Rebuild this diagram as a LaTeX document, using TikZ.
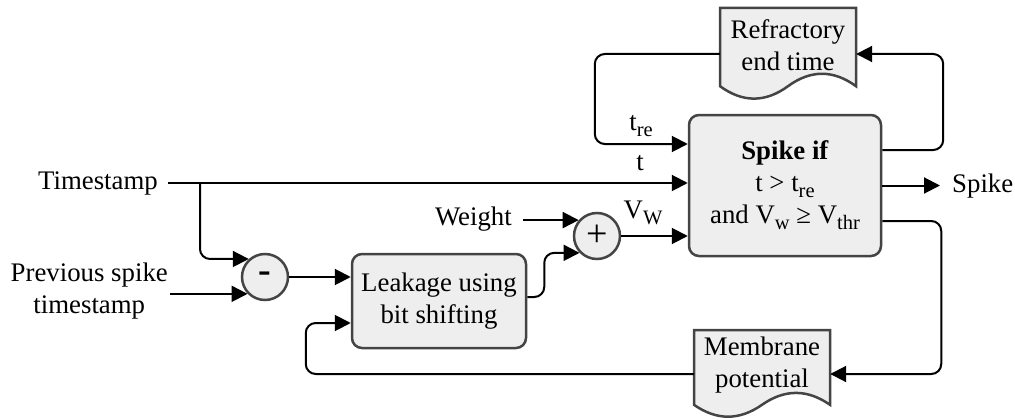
\documentclass[tikz,border=0pt]{standalone}
\usepackage{fontspec}
\setmainfont{Liberation Serif}
\usetikzlibrary{arrows.meta,calc}
\definecolor{boxfill}{HTML}{EEEEEE}
\definecolor{boxline}{HTML}{444444}
\newcommand\mysub[1]{\raisebox{-6pt}{\fontsize{20.5}{20}\selectfont #1}}
\begin{document}
\begin{tikzpicture}[x=1pt,y=-1pt,
  every node/.style={font=\fontsize{26.8}{32}\selectfont, inner sep=0pt},
  conn/.style={line width=2pt, rounded corners=10pt},
  arr/.style={conn, -{Triangle[length=16pt,width=16pt]}},
  procbox/.style={draw=boxline, fill=boxfill, line width=2.5pt, rounded corners=10pt, align=center},
  opcircle/.style={circle, draw=boxline, fill=boxfill, line width=2.5pt, minimum size=46pt},
  doctext/.style={align=center, minimum width=136pt},
  docline/.style={draw=boxline, fill=boxfill, line width=2.5pt},
  lbl/.style={align=center}]
\useasboundingbox (0,0) rectangle (1015,420);

% document outlines
\draw[docline] (720,8) -- (856,8) -- (856,86.2)
  .. controls (833.33,69.64) and (810.67,69.64) .. (788,86.2)
  .. controls (765.33,102.76) and (742.67,102.76) .. (720,86.2) -- cycle;
\draw[docline] (694,330) -- (830,330) -- (830,404.8)
  .. controls (807.33,388.96) and (784.67,388.96) .. (762,404.8)
  .. controls (739.33,420.64) and (716.67,420.64) .. (694,404.8) -- cycle;

% nodes
\node[doctext] (ref) at (788,45) {Refractory\\end time};
\node[doctext] (mem) at (762,365) {Membrane\\potential};
\node[procbox, minimum width=192pt, minimum height=141pt] (spk) at (785,185.5)
  {\textbf{Spike if}\\ t > t\mysub{re}\\ and V\mysub{w} ≥ V\mysub{thr}};
\node[procbox, minimum width=174pt, minimum height=94pt] (leak) at (439,301)
  {Leakage using\\bit shifting};
\node[opcircle] (minus) at (265,277) {\bfseries\fontsize{38}{38}\selectfont -};
\node[opcircle] (plus) at (597,236) {\fontsize{38}{38}\selectfont +};

\node[lbl, anchor=east, inner xsep=10pt] (ts) at (168,183) {Timestamp};
\node[lbl, anchor=east, inner xsep=2pt] (prev) at (170,291) {Previous spike\\timestamp};
\node[lbl, anchor=east, inner xsep=11pt] (weight) at (523,219) {Weight};
\node[lbl, anchor=west, inner xsep=12pt] (spout) at (940,186) {Spike};

\node[lbl] (ltre) at (641,126) {t\mysub{re}};
\node[lbl] (lt) at (640,163) {t};
\node[lbl] (lvw) at (643,213) {V\mysub{W}};

% connectors
\draw[arr] (ts.east) -- (ts.east -| spk.west);
\draw[arr] ([xshift=32pt]ts.east) |- (minus.132);
\draw[arr] (prev.east |- minus.224) -- (minus.224);
\draw[arr] (minus.east) -- (minus.east -| leak.west);
\draw[arr] (weight.east |- plus.139) -- (plus.139);
\draw[arr] ([yshift=4pt]leak.east) -- ++(17,0) |- (plus.224);
\draw[arr] (plus.east) -- (plus.east -| spk.west);
\draw[arr] (spk.east) -- (spk.east -| spout.west);
\draw[arr] ([yshift=35.5pt]spk.east) -| ([xshift=87pt,yshift=-9pt]ref.east) -- ([yshift=-9pt]ref.east);
\draw[arr] ([yshift=-9pt]ref.west) -- ++(-125,0) |- ([yshift=41.5pt]spk.west);
\draw[arr] ([yshift=-35.5pt]spk.east) -- ++(59,0) |- ([yshift=-9pt]mem.east);
\draw[arr] ([yshift=-9pt]mem.west) -| ([xshift=-45pt,yshift=-22pt]leak.west) -- ([yshift=-22pt]leak.west);
\end{tikzpicture}
\end{document}
